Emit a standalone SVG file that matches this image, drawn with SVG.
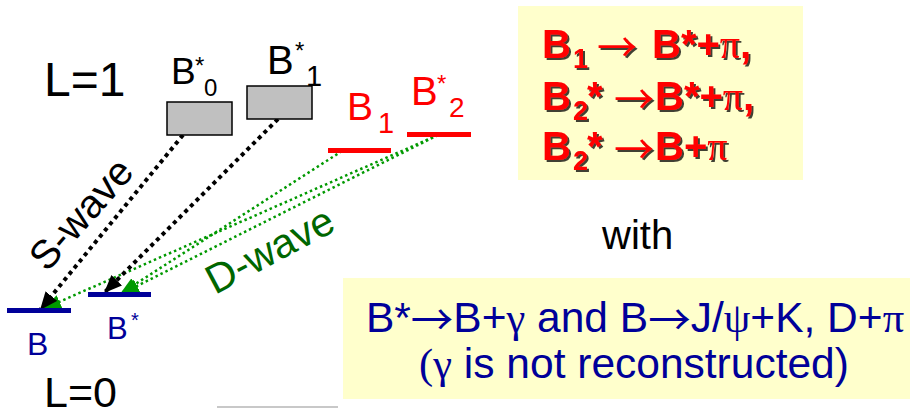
<svg xmlns="http://www.w3.org/2000/svg" width="910" height="413" viewBox="0 0 910 413">
<style>
text{font-family:"Liberation Sans",Arial,sans-serif}
.sym{font-family:"Liberation Serif","Times New Roman",serif}
.arr{font-family:"Noto Sans CJK JP","DejaVu Sans",sans-serif;font-weight:normal}
.blk{fill:#000}
.red{fill:#ff0000}
.blue{fill:#000099}
.box{fill:#c0c0c0;stroke:#000;stroke-width:1.5}
.rbar{stroke:#ff0000;stroke-width:5}
.bbar{stroke:#000099;stroke-width:5}
.sdot{fill:none;stroke:#000;stroke-width:4;stroke-dasharray:4 4;marker-end:url(#ahB)}
.ddot{fill:none;stroke:#009900;stroke-width:2.5;stroke-dasharray:2.5 3;marker-end:url(#ahG)}
.note{fill:#ffffcc}
.dec{font-weight:bold;font-size:40px;fill:#ff0000;filter:url(#shadow)}
</style>
<defs>
<marker id="ahB" markerUnits="userSpaceOnUse" markerWidth="19" markerHeight="15" refX="18" refY="7.5" orient="auto"><path d="M0,0 L18,7.5 L0,15 Z" fill="#000"/></marker>
<marker id="ahG" markerUnits="userSpaceOnUse" markerWidth="19" markerHeight="14" refX="18" refY="7" orient="auto"><path d="M0,0 L18,7 L0,14 Z" fill="#009900"/></marker>
<filter id="shadow" x="-10%" y="-10%" width="130%" height="140%"><feDropShadow dx="2" dy="2" stdDeviation="0.4" flood-color="#000" flood-opacity="0.75"/></filter>
</defs>

<rect id="gray-line" x="217" y="406" width="121" height="2" fill="#c8c8c8"/>

<g id="level-L1"><text x="44" y="96" font-size="48" class="blk">L=1</text></g>
<g id="level-L0"><text x="44" y="407" font-size="43" class="blk">L=0</text></g>

<g id="connectors">
<line class="ddot" x1="342" y1="151" x2="120" y2="294"/>
<line class="ddot" x1="438" y1="135" x2="121" y2="294"/>
<line class="ddot" x1="438" y1="135" x2="43" y2="309"/>
<line class="sdot" x1="183" y1="135" x2="40" y2="310"/>
<line class="sdot" x1="278" y1="119" x2="104" y2="293"/>
</g>

<g id="node-B0star">
<rect class="box" x="167" y="102" width="65" height="33"/>
<text class="blk" font-size="37" x="171" y="84">B</text>
<text class="blk" font-size="24" x="195" y="74">*</text>
<text class="blk" font-size="24" x="204" y="96">0</text>
</g>
<g id="node-B1star">
<rect class="box" x="247" y="86" width="65" height="33"/>
<text class="blk" font-size="40" x="267" y="74">B</text>
<text class="blk" font-size="24" x="295" y="59">*</text>
<text class="blk" font-size="29" x="306" y="86">1</text>
</g>
<g id="node-B1">
<line class="rbar" x1="328" y1="150.5" x2="391" y2="150.5"/>
<text class="red" font-size="39" x="347" y="120">B</text>
<text class="red" font-size="29" x="378" y="133">1</text>
</g>
<g id="node-B2star">
<line class="rbar" x1="407" y1="134.5" x2="471" y2="134.5"/>
<text class="red" font-size="40" x="411" y="105">B</text>
<text class="red" font-size="24" x="437" y="92">*</text>
<text class="red" font-size="28" x="449" y="117">2</text>
</g>
<g id="node-B">
<line class="bbar" x1="7" y1="310.5" x2="71" y2="310.5"/>
<text class="blue" font-size="32" x="27" y="355">B</text>
</g>
<g id="node-Bstar">
<line class="bbar" x1="88" y1="294.5" x2="151" y2="294.5"/>
<text class="blue" font-size="31" x="107" y="339">B</text>
<text class="blue" font-size="20" x="131" y="327">*</text>
</g>

<g id="label-swave"><text class="blk" font-size="40" transform="translate(47,273) rotate(-48.5)">S-wave</text></g>
<g id="label-dwave"><text fill="#006600" font-size="41" transform="translate(215,295) rotate(-28)">D-wave</text></g>

<g id="note-decays">
<rect class="note" x="518" y="6" width="285" height="174"/>
<text class="dec" y="58"><tspan x="542">B</tspan><tspan x="573" y="68" font-size="27">1</tspan><tspan class="arr" x="597" y="62">→</tspan><tspan x="652" y="58">B*+</tspan><tspan class="sym" font-weight="normal">π</tspan><tspan>,</tspan></text>
<text class="dec" y="110"><tspan x="542">B</tspan><tspan x="573" y="120" font-size="27">2</tspan><tspan x="587" y="110">*</tspan><tspan class="arr" x="614" y="114">→</tspan><tspan x="655" y="110">B*+</tspan><tspan class="sym" font-weight="normal">π</tspan><tspan>,</tspan></text>
<text class="dec" y="160"><tspan x="542">B</tspan><tspan x="573" y="170" font-size="27">2</tspan><tspan x="587" y="160">*</tspan><tspan class="arr" x="614" y="164">→</tspan><tspan x="655" y="160">B+</tspan><tspan class="sym" font-weight="normal">π</tspan></text>
</g>

<g id="label-with"><text class="blk" font-size="40" x="602" y="249">with</text></g>

<g id="note-reco">
<rect class="note" x="343" y="278" width="567" height="121"/>
<text class="blue" font-size="42.5" x="635" y="332" text-anchor="middle">B*<tspan class="arr" dy="3">→</tspan><tspan dy="-3">B+</tspan><tspan class="sym">γ</tspan> and B<tspan class="arr" dy="3">→</tspan><tspan dy="-3">J/</tspan><tspan class="sym">ψ</tspan>+K, D+<tspan class="sym">π</tspan></text>
<text class="blue" font-size="42.5" x="634" y="378" text-anchor="middle"><tspan class="sym">(γ</tspan> is not reconstructed)</text>
</g>
</svg>
